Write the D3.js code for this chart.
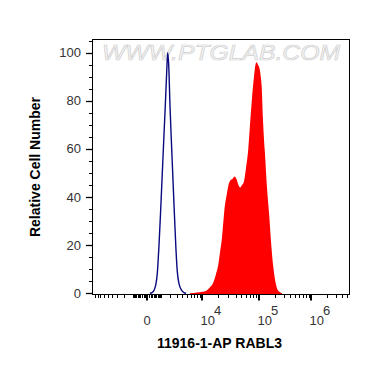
<!DOCTYPE html>
<html>
<head>
<meta charset="utf-8">
<script src="https://cdn.jsdelivr.net/npm/d3@7"></script>
<style>
  body { margin: 0; background: #fff; }
  svg { display: block; font-family: "Liberation Sans", Arial, sans-serif; }
  .tick-label { font-size: 13px; fill: #333; }
  .axis-title { font-size: 14px; font-weight: bold; fill: #000; }
</style>
</head>
<body>
<svg width="370" height="367"></svg>
<script>
// fluorescence values (FL channel) and relative counts
const controlX = [170, 294, 428, 573, 673, 812, 943, 1109, 1277, 1413, 1567, 1683, 1802, 1965, 2136, 2330, 2595, 2830, 3045, 3343, 3858, 4339, 4794];
const controlY = [0, 0.3, 1.2, 4, 8.3, 20, 33, 50, 66, 78, 92, 100, 95, 78, 64, 50, 32, 18, 9, 4, 1.2, 0.3, 0];

const sampleX = [5815, 7914, 10000, 12249, 14088, 16178, 18094, 19891, 21328, 22857, 24095, 25603, 27981, 30077, 32585, 35294, 38220, 41370, 44772, 47880, 51394, 55608, 60144, 65814, 70336, 76048, 82236, 87178, 91336, 96082, 102200, 106862, 112742, 119462, 124922, 130606, 142758, 158130, 172830, 188860, 206500, 225540, 248640, 277760];
const sampleY = [0, 0.3, 0.6, 1.2, 2.5, 4.5, 8, 12, 17, 22, 28, 35, 41, 45, 47, 47.5, 48.5, 47.5, 45, 44, 45, 46.5, 52, 60, 70, 81, 90, 95, 96, 95, 93.5, 91, 86, 72, 64, 58, 44, 32, 20, 11, 5, 1.8, 0.6, 0];

const xMajorTicks = [0, 1e4, 1e5, 1e6];
const xMajorExp = [null, 4, 5, 6];
const yTicks = [0, 20, 40, 60, 80, 100];

const xTitle = "11916-1-AP RABL3";
const yTitle = "Relative Cell Number";
const watermark = "WWW.PTGLAB.COM";

const svg = d3.select("svg");

// biexponential-like display axis
const xScale = d3.scaleSymlog()
  .constant(1400)
  .domain([-1e4, 0, 1e4, 1e5, 1e6, 5.5e6])
  .range([92.5, 147, 202, 259, 311, 349.5]);

const yScale = d3.scaleLinear()
  .domain([-0.5, 105.5])
  .range([294.5, 39.5]);

const [x0, x1] = [xScale.range()[0], xScale.range()[xScale.range().length - 1]];
const [yBottom, yTop] = yScale.range();

// watermark
svg.append("text")
  .attr("x", 102)
  .attr("y", 60)
  .attr("textLength", 238)
  .attr("lengthAdjust", "spacingAndGlyphs")
  .style("font-size", "22px")
  .style("font-style", "italic")
  .attr("fill", "#f6f6f6")
  .attr("stroke", "#cfcfcf")
  .attr("stroke-width", 0.7)
  .text(watermark);

// sample histogram (filled red)
const area = d3.area()
  .x(d => xScale(d[0]))
  .y0(yScale(-0.5))
  .y1(d => yScale(d[1]))
  .curve(d3.curveMonotoneX);

svg.append("path")
  .datum(d3.zip(sampleX, sampleY))
  .attr("fill", "#ff0000")
  .attr("d", area);

// isotype control (navy line)
const line = d3.line()
  .x(d => xScale(d[0]))
  .y(d => yScale(d[1]))
  .curve(d3.curveMonotoneX);

svg.append("path")
  .datum(d3.zip(controlX, controlY))
  .attr("fill", "none")
  .attr("stroke", "#0a0a80")
  .attr("stroke-width", 1.4)
  .attr("d", line);

// frame
svg.append("rect")
  .attr("x", x0)
  .attr("y", yTop)
  .attr("width", x1 - x0)
  .attr("height", yBottom - yTop)
  .attr("fill", "none")
  .attr("stroke", "#000")
  .attr("stroke-width", 1);

// y axis
const yMinor = d3.range(0, 106, 5).filter(v => !yTicks.includes(v));
svg.append("g")
  .selectAll("line")
  .data(yMinor)
  .join("line")
  .attr("x1", x0 - 3.5).attr("x2", x0)
  .attr("y1", d => Math.round(yScale(d)) + 0.5)
  .attr("y2", d => Math.round(yScale(d)) + 0.5)
  .attr("stroke", "#000");

const yMajorG = svg.append("g");
yMajorG.selectAll("line")
  .data(yTicks)
  .join("line")
  .attr("x1", x0 - 6.5).attr("x2", x0)
  .attr("y1", d => Math.round(yScale(d)) + 0.5)
  .attr("y2", d => Math.round(yScale(d)) + 0.5)
  .attr("stroke", "#000")
  .attr("stroke-width", 1.3);
yMajorG.selectAll("text")
  .data(yTicks)
  .join("text")
  .attr("class", "tick-label")
  .attr("x", 81)
  .attr("y", d => yScale(d) + 4.5)
  .attr("text-anchor", "end")
  .text(d => d);

// x axis minor ticks
const minorVals = [];
for (let k = 1; k <= 9; k++) {
  minorVals.push(-k * 100, k * 100, -k * 1000, k * 1000);
  if (k > 1) minorVals.push(k * 1e4, k * 1e5);
  if (k > 1 && k < 6) minorVals.push(k * 1e6);
}

svg.append("g")
  .selectAll("line")
  .data(minorVals)
  .join("line")
  .attr("x1", d => Math.round(xScale(d)) + 0.5)
  .attr("x2", d => Math.round(xScale(d)) + 0.5)
  .attr("y1", yBottom).attr("y2", yBottom + 3.5)
  .attr("stroke", "#000");

const xMajorG = svg.append("g");
xMajorG.selectAll("line")
  .data(xMajorTicks)
  .join("line")
  .attr("x1", d => Math.round(xScale(d)))
  .attr("x2", d => Math.round(xScale(d)))
  .attr("y1", yBottom).attr("y2", yBottom + 6)
  .attr("stroke", "#000")
  .attr("stroke-width", 2);

const xLabels = xMajorG.selectAll("text")
  .data(xMajorTicks)
  .join("text")
  .attr("class", "tick-label")
  .attr("x", (d, i) => xMajorExp[i] === null ? xScale(d) : xScale(d) - 1.5)
  .attr("y", 325)
  .attr("text-anchor", (d, i) => xMajorExp[i] === null ? "middle" : "start");

xLabels.each(function (d, i) {
  const t = d3.select(this);
  if (xMajorExp[i] === null) {
    t.text(d);
  } else {
    t.append("tspan").text("10");
    t.append("tspan")
      .attr("dx", -1)
      .attr("dy", -10)
      .text(xMajorExp[i]);
  }
});

// axis titles
svg.append("text")
  .attr("class", "axis-title")
  .attr("x", 219.5)
  .attr("y", 348)
  .attr("text-anchor", "middle")
  .text(xTitle);

svg.append("text")
  .attr("class", "axis-title")
  .attr("transform", `translate(40,167) rotate(-90)`)
  .attr("text-anchor", "middle")
  .text(yTitle);
</script>
</body>
</html>
